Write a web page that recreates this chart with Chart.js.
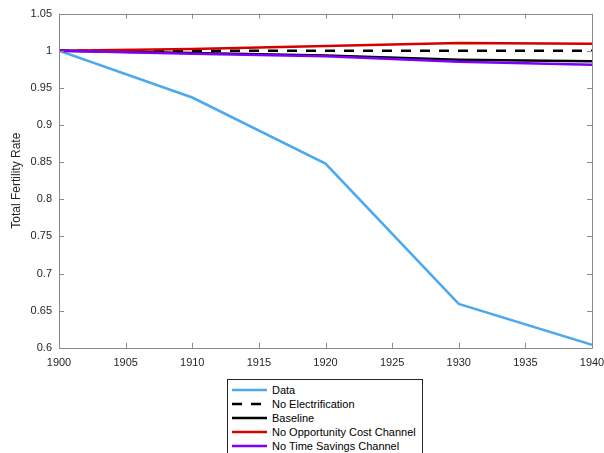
<!DOCTYPE html>
<html>
<head>
<meta charset="utf-8">
<script src="https://cdn.jsdelivr.net/npm/chart.js@4"></script>
<style>
  html, body { margin: 0; padding: 0; background: #fff; overflow: hidden; }
  #wrap { position: relative; width: 640px; height: 453px; }
  #legend {
    position: absolute; left: 227px; top: 379px; width: 196px; height: 80px;
    border: 1px solid #262626; background: #fff; box-sizing: border-box;
    padding: 3px 0 0 4px; font: 11px "Liberation Sans", Arial, sans-serif; color: #000;
  }
  .row { display: flex; align-items: center; height: 14px; }
  .row svg { margin-right: 5px; }
</style>
</head>
<body>
<div id="wrap">
  <canvas id="myChart" width="640" height="453"></canvas>
  <div id="legend"></div>
</div>
<script>
const years = [1900, 1910, 1920, 1930, 1940];
const dataTfr = [1.000, 0.937, 0.848, 0.659, 0.604];
const noElectrification = [1.000, 1.000, 1.000, 1.000, 1.000];
const baseline = [1.000, 0.997, 0.9935, 0.988, 0.986];
const noOpportunityCost = [1.000, 1.0025, 1.0065, 1.0105, 1.0095];
const noTimeSavings = [1.000, 0.996, 0.9925, 0.985, 0.981];

const xTicks = [1900, 1905, 1910, 1915, 1920, 1925, 1930, 1935, 1940];
const yTicks = [0.6, 0.65, 0.7, 0.75, 0.8, 0.85, 0.9, 0.95, 1, 1.05];

const axisColor = '#8a8a8a';
const textColor = '#262626';
const font = {family: '"Liberation Sans", Arial, sans-serif', size: 11};

function points(values){
    return years.map((y, i) => ({x: y, y: values[i]}));
}

const series = [
    {label: 'Data', values: dataTfr, color: '#4ba9ef', dash: []},
    {label: 'No Electrification', values: noElectrification, color: '#000000', dash: [10, 9]},
    {label: 'Baseline', values: baseline, color: '#000000', dash: []},
    {label: 'No Opportunity Cost Channel', values: noOpportunityCost, color: '#d40000', dash: []},
    {label: 'No Time Savings Channel', values: noTimeSavings, color: '#7d00fa', dash: []}
];

// matlab style box + inward ticks
const boxTicks = {
    id: 'boxTicks',
    afterDraw(chart){
        const ctx = chart.ctx;
        const a = chart.chartArea;
        const xs = chart.scales.x, ys = chart.scales.y;
        ctx.save();
        ctx.strokeStyle = axisColor;
        ctx.lineWidth = 1;
        ctx.beginPath();
        ctx.rect(Math.round(a.left) + 0.5, Math.round(a.top) + 0.5, Math.round(a.right - a.left), Math.round(a.bottom - a.top));
        xTicks.forEach(t => {
            const px = Math.round(xs.getPixelForValue(t)) + 0.5;
            ctx.moveTo(px, a.bottom); ctx.lineTo(px, a.bottom - 5);
            ctx.moveTo(px, a.top); ctx.lineTo(px, a.top + 5);
        });
        yTicks.forEach(t => {
            const py = Math.round(ys.getPixelForValue(t)) + 0.5;
            ctx.moveTo(a.left, py); ctx.lineTo(a.left + 5, py);
            ctx.moveTo(a.right, py); ctx.lineTo(a.right - 5, py);
        });
        ctx.stroke();
        ctx.restore();
    }
};

const config = {
    type: 'line',
    data: {
        datasets: series.map((s, i) => ({
            label: s.label,
            data: points(s.values),
            borderColor: s.color,
            backgroundColor: s.color,
            borderDash: s.dash,
            borderWidth: 2.5,
            pointRadius: 0,
            tension: 0,
            order: series.length - i
        }))
    },
    options: {
        responsive: false,
        animation: false,
        layout: {padding: {left: 0, right: 48, top: 6, bottom: 74}},
        plugins: {
            legend: {display: false},
            tooltip: {enabled: false}
        },
        scales: {
            x: {
                type: 'linear',
                min: 1900, max: 1940,
                afterBuildTicks: axis => { axis.ticks = xTicks.map(v => ({value: v})); },
                grid: {display: false, drawTicks: false},
                border: {display: false},
                ticks: {color: textColor, font: font, padding: 9, maxRotation: 0,
                    callback: v => String(v)}
            },
            y: {
                min: 0.6, max: 1.05,
                afterBuildTicks: axis => { axis.ticks = yTicks.map(v => ({value: v})); },
                afterFit: axis => { axis.width = 59; },
                grid: {display: false, drawTicks: false},
                border: {display: false},
                title: {display: true, text: 'Total Fertility Rate', color: textColor,
                    font: {family: font.family, size: 12}, padding: {top: 9, bottom: 0}},
                ticks: {color: textColor, font: font, padding: 7,
                    callback: v => String(Math.round(v * 100) / 100)}
            }
        }
    },
    plugins: [boxTicks]
};

const myChart = new Chart(document.getElementById('myChart'), config);

// legend box under the axes
const legend = document.getElementById('legend');
series.forEach(s => {
    const row = document.createElement('div');
    row.className = 'row';
    const dash = s.dash.length ? ' stroke-dasharray="' + s.dash.join(' ') + '"' : '';
    row.innerHTML = '<svg width="35" height="6"><line x1="0" y1="3" x2="35" y2="3" stroke="' + s.color +
        '" stroke-width="2.5"' + dash + '/></svg><span>' + s.label + '</span>';
    legend.appendChild(row);
});
</script>
</body>
</html>
